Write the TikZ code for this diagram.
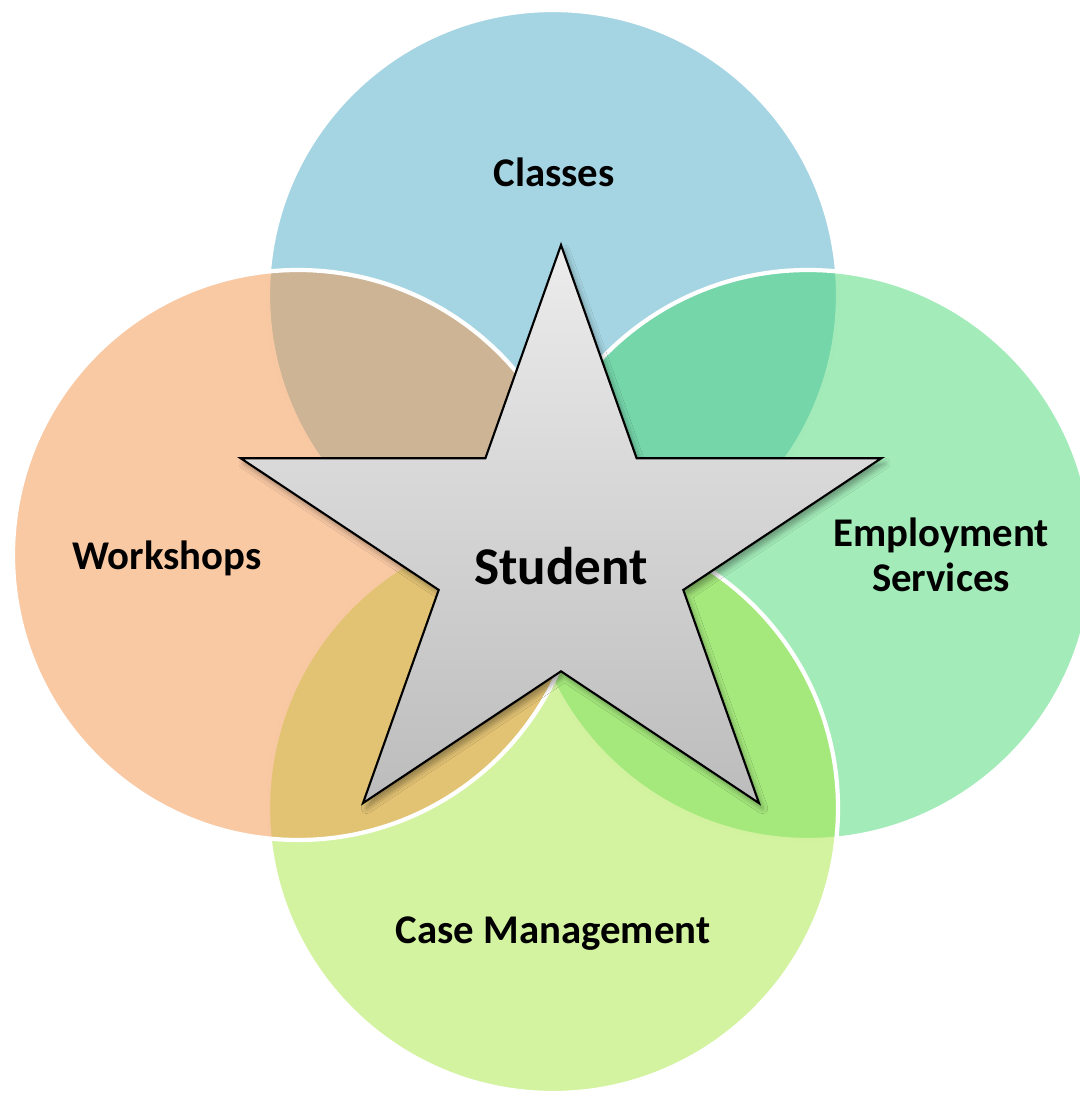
\documentclass[tikz,border=0pt]{standalone}
\usepackage{fontspec}
\setmainfont{Carlito}
\usetikzlibrary{shadows.blur}

\definecolor{classblue}{RGB}{75,171,197}
\definecolor{shoporange}{RGB}{243,147,73}
\definecolor{jobgreen}{RGB}{71,215,115}
\definecolor{caselime}{RGB}{167,231,65}

\begin{document}
\begin{tikzpicture}[x=0.01cm,y=-0.01cm,
  set/.style={draw=white,line width=1.2pt,fill opacity=0.5},
  setlabel/.style={font=\fontsize{11.6}{12.8}\selectfont\bfseries,align=center},
  hub/.style={draw=black,line width=0.6pt,line join=miter,
    top color={rgb,255:red,236;green,236;blue,236},
    bottom color={rgb,255:red,188;green,188;blue,188},
    blur shadow={shadow blur steps=6,shadow blur radius=1.5pt,
      shadow xshift=1pt,shadow yshift=-1.5pt,shadow opacity=35}}]
\useasboundingbox (0,0) rectangle (1080,1094);
% the four circles, back to front
\filldraw[set,fill=classblue] (553,295) circle (285);
\filldraw[set,fill=jobgreen] (808,555) circle (285);
\filldraw[set,fill=caselime] (553,808) circle (285);
\filldraw[set,fill=shoporange] (298,555) circle (285);
% star
\draw[hub] (561,245) -- (636.6,458.2) -- (881.4,458.2) -- (683.3,589.9)
  -- (759,803.1) -- (561,671.3) -- (363,803.1) -- (438.7,589.9)
  -- (240.6,458.2) -- (485.4,458.2) -- cycle;
\node[anchor=base,font=\fontsize{15.1}{18}\selectfont\bfseries] (student) at (561,584) {Student};
% labels
\node[setlabel,anchor=base] (classes) at (554,186) {Classes};
\node[setlabel,anchor=base] (workshops) at (167,569) {Workshops};
\node[setlabel] (employment) at (941,555) {Employment\\Services};
\node[setlabel,anchor=base] (casemgmt) at (553,943) {Case Management};
\end{tikzpicture}
\end{document}
